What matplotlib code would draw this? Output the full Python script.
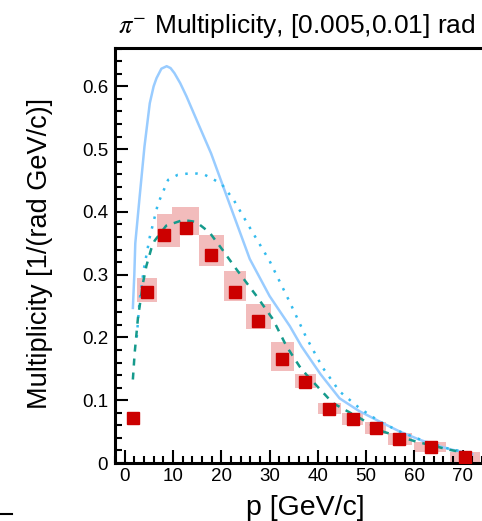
import matplotlib
matplotlib.use('Agg')
import matplotlib.pyplot as plt
from matplotlib.lines import Line2D
from matplotlib.ticker import MultipleLocator

plt.rcParams['font.family'] = ['Liberation Sans', 'DejaVu Sans']
plt.rcParams['mathtext.fontset'] = 'stix'

# data points (red squares)
p_data = [1.7, 4.6, 8.1, 12.6, 17.9, 22.8, 27.7, 32.6, 37.4, 42.3, 47.3, 52.0, 56.9, 63.4, 70.4]
m_data = [0.072, 0.273, 0.363, 0.374, 0.332, 0.273, 0.226, 0.166, 0.129, 0.086, 0.070, 0.0555, 0.038, 0.025, 0.010]

# systematic boxes
box_p_lo = [1.7, 2.6, 6.7, 9.7, 15.3, 20.5, 25.2, 30.4, 35.2, 40.0, 44.9, 49.7, 54.5, 60.0, 67.3]
box_p_hi = [1.7, 6.7, 11.4, 15.4, 20.5, 25.2, 30.2, 35.0, 39.7, 44.7, 49.3, 54.2, 59.4, 66.6, 73.5]
box_m_lo = [0.072, 0.257, 0.344, 0.363, 0.314, 0.258, 0.214, 0.146, 0.120, 0.078, 0.061, 0.047, 0.029, 0.018, 0.002]
box_m_hi = [0.072, 0.294, 0.397, 0.408, 0.363, 0.306, 0.254, 0.192, 0.142, 0.096, 0.080, 0.066, 0.048, 0.034, 0.017]

# model curves
p_solid = [1.7, 2.0, 2.2, 3.1, 4.1, 5.2, 6.0, 6.6, 7.6, 8.7, 9.5, 10.3, 11.5, 12.8, 15.2, 17.9, 21.7, 25.9,
           30.0, 34.2, 36.6, 40.5, 44.5, 48.5, 52.8, 57.0, 61.1, 64.5, 67.9, 72.0]
m_solid = [0.247, 0.30, 0.35, 0.424, 0.504, 0.573, 0.600, 0.613, 0.628, 0.632, 0.629, 0.621, 0.605, 0.584, 0.541,
           0.493, 0.413, 0.325, 0.266, 0.218, 0.186, 0.142, 0.103, 0.083, 0.066, 0.050, 0.037, 0.028, 0.021, 0.014]

p_dotted = [2.5, 3.1, 4.0, 5.2, 6.9, 9.0, 11.0, 13.1, 15.0, 16.6, 20.0, 22.5, 25.9,
            30.0, 34.2, 37.6, 41.0, 44.5, 48.7, 52.8, 57.0, 62.0, 67.0, 72.0]
m_dotted = [0.20, 0.26, 0.31, 0.36, 0.413, 0.451, 0.459, 0.461, 0.461, 0.459, 0.445, 0.420, 0.375,
            0.322, 0.256, 0.200, 0.152, 0.114, 0.087, 0.066, 0.050, 0.035, 0.023, 0.015]

p_dashed = [1.7, 2.07, 2.4, 2.75, 3.8, 4.5, 5.5, 6.2, 8.6, 12.1, 14.8, 17.6, 20.4, 23.1, 27.3,
            30.7, 33.5, 36.2, 37.6, 43.1, 48.7, 53.5, 60.4, 67.3, 70.0]
m_dashed = [0.133, 0.175, 0.202, 0.231, 0.287, 0.314, 0.341, 0.354, 0.378, 0.387, 0.384, 0.367, 0.338, 0.309, 0.266,
            0.229, 0.186, 0.154, 0.141, 0.0955, 0.0715, 0.050, 0.034, 0.021, 0.017]

x_ticks = [0, 10, 20, 30, 40, 50, 60, 70]
y_ticks = [0, 0.1, 0.2, 0.3, 0.4, 0.5, 0.6]
y_tick_labels = ['0', '0.1', '0.2', '0.3', '0.4', '0.5', '0.6']

fig = plt.figure(figsize=(4.82, 5.21), dpi=100)
ax = fig.add_axes([0.2386, 0.1113, 0.8216, 0.7966])

heights = [hi - lo for lo, hi in zip(box_m_lo, box_m_hi)]
widths = [hi - lo for lo, hi in zip(box_p_lo, box_p_hi)]
ax.bar(box_p_lo, heights, width=widths, bottom=box_m_lo, align='edge',
       color='#f2bcbc', linewidth=0, zorder=1)

ax.plot(p_solid, m_solid, color='#99ccff', lw=1.8, zorder=2)
ax.plot(p_dotted, m_dotted, color='#33bbee', lw=1.8, dashes=(1, 3), zorder=2)
ax.plot(p_dashed, m_dashed, color='#159a8c', lw=1.8, dashes=(2.8, 2.8), zorder=2)

ax.plot(p_data, m_data, 's', color='#cc0000', ms=9, mec='#cc0000', zorder=3)

ax.set_xlim(-2, 80)
ax.set_ylim(0, 0.661)
ax.set_xticks(x_ticks)
ax.xaxis.set_minor_locator(MultipleLocator(2))
ax.yaxis.set_minor_locator(MultipleLocator(0.02))
ax.set_yticks(y_ticks)
ax.set_yticklabels(y_tick_labels)
ax.tick_params(which='both', direction='in', top=False, right=False, width=1.5)
ax.tick_params(which='major', length=9.5, labelsize=13.5)
ax.tick_params(axis='x', which='major', pad=3.5)
ax.tick_params(axis='y', which='major', pad=5)
ax.tick_params(which='minor', length=5)
for s in ax.spines.values():
    s.set_linewidth(2.2)

fig.text(0.083, 0.514, 'Multiplicity [1/(rad GeV/c)]', rotation=90, fontsize=19.5,
         ha='center', va='center')
fig.text(0.633, 0.024, 'p [GeV/c]', fontsize=20.5, ha='center', va='center')
fig.text(0.616, 0.950, r'$\pi^{-}$ Multiplicity, [0.005,0.01] rad', fontsize=19,
         ha='center', va='center')

fig.add_artist(Line2D([0, 12 / 482], [1 - 514 / 521, 1 - 514 / 521], color='k', lw=1.5))

fig.savefig('out.png', dpi=100)
